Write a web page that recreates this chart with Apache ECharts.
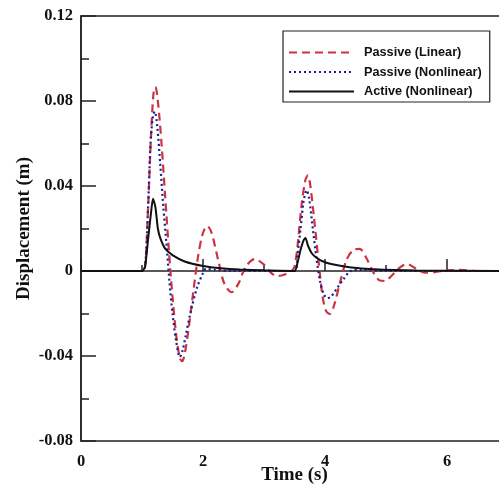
<!DOCTYPE html>
<html>
<head>
<meta charset="utf-8">
<script src="https://cdn.jsdelivr.net/npm/echarts@6/dist/echarts.min.js"></script>
<style>html,body{margin:0;padding:0;background:#fff;}#c{width:499px;height:490px;}</style>
</head>
<body>
<div id="c"></div>
<script>
var seriesNames = ['Passive (Linear)', 'Passive (Nonlinear)', 'Active (Nonlinear)'];
var yTickLabels = ['-0.08', '-0.04', '0', '0.04', '0.08', '0.12'];
var xTickLabels = ['0', '2', '4', '6'];

var linearT = [0, 1.0, 1.05, 1.1, 1.15, 1.19, 1.22, 1.26, 1.32, 1.38, 1.44, 1.5, 1.56, 1.62, 1.66, 1.7, 1.76, 1.84, 1.92, 2.0, 2.07, 2.14, 2.25, 2.35, 2.47, 2.58, 2.7, 2.85, 3.0, 3.12, 3.22, 3.35, 3.45, 3.5, 3.55, 3.62, 3.68, 3.72, 3.76, 3.82, 3.9, 3.96, 4.02, 4.08, 4.15, 4.25, 4.35, 4.46, 4.57, 4.68, 4.8, 4.9, 4.98, 5.1, 5.2, 5.34, 5.5, 5.65, 5.8, 6.0, 6.2, 6.5, 7.0];
var linearY = [0, 0, 0.002, 0.03, 0.065, 0.084, 0.0866, 0.08, 0.06, 0.035, 0.01, -0.012, -0.03, -0.041, -0.0424, -0.039, -0.028, -0.01, 0.007, 0.018, 0.0212, 0.018, 0.005, -0.006, -0.010, -0.006, 0.002, 0.0056, 0.003, -0.001, -0.0024, -0.0015, 0, 0.002, 0.012, 0.032, 0.043, 0.045, 0.040, 0.025, 0.003, -0.012, -0.019, -0.0202, -0.016, -0.005, 0.005, 0.0098, 0.0104, 0.006, -0.001, -0.0045, -0.0047, -0.002, 0.001, 0.0033, 0.001, -0.0008, -0.0005, 0.0003, 0.0005, 0, 0];

var nonlinT = [0, 1.0, 1.05, 1.1, 1.14, 1.18, 1.21, 1.25, 1.3, 1.35, 1.4, 1.45, 1.5, 1.56, 1.62, 1.66, 1.72, 1.8, 1.9, 2.0, 2.05, 2.2, 2.5, 3.5, 3.55, 3.6, 3.65, 3.7, 3.74, 3.8, 3.86, 3.92, 3.98, 4.04, 4.1, 4.2, 4.3, 4.42, 4.6, 5.0, 7.0];
var nonlinY = [0, 0, 0.002, 0.03, 0.06, 0.073, 0.075, 0.068, 0.05, 0.03, 0.013, -0.005, -0.02, -0.033, -0.0405, -0.038, -0.03, -0.019, -0.008, -0.001, 0.001, 0.0005, 0, 0, 0.008, 0.02, 0.033, 0.038, 0.034, 0.02, 0.006, -0.005, -0.011, -0.0128, -0.012, -0.008, -0.004, 0, 0.0005, 0, 0];

var activeT = [0, 1.0, 1.05, 1.1, 1.15, 1.18, 1.22, 1.26, 1.3, 1.38, 1.5, 1.7, 2.0, 2.3, 2.6, 3.0, 3.5, 3.55, 3.6, 3.65, 3.68, 3.72, 3.78, 3.85, 3.95, 4.1, 4.4, 4.8, 5.5, 7.0];
var activeY = [0, 0, 0.002, 0.015, 0.028, 0.034, 0.030, 0.020, 0.0155, 0.0105, 0.0075, 0.0045, 0.0024, 0.0013, 0.0007, 0.0003, 0, 0.004, 0.010, 0.0145, 0.0155, 0.012, 0.0085, 0.0065, 0.0047, 0.0033, 0.0018, 0.0008, 0.0002, 0];

function pairs(t, y) { return t.map(function (v, i) { return [v, y[i]]; }); }

var chart = echarts.init(document.getElementById('c'), null, {renderer: 'canvas'});
var serif = 'Liberation Serif';
chart.setOption({
  animation: false,
  backgroundColor: '#fff',
  grid: {left: 81, top: 16, bottom: 49, right: -9, outerBoundsMode: 'none', containLabel: false,
    show: true, borderColor: '#222', borderWidth: 1.5, backgroundColor: 'transparent'},
  legend: {
    orient: 'vertical', left: 283, top: 31,
    padding: [15, 8, 4, 5], itemGap: 6.5, itemWidth: 65, itemHeight: 12,
    borderColor: '#222', borderWidth: 1.2, backgroundColor: '#fff',
    itemStyle: {opacity: 0},
    textStyle: {fontFamily: 'Liberation Sans', fontWeight: 'bold', fontSize: 12.7, lineHeight: 12, color: '#111', padding: [0, 0, 0, 5]},
    data: seriesNames
  },
  xAxis: {
    type: 'value', min: 0, max: 7, interval: 2,
    name: 'Time (s)', nameLocation: 'middle', nameGap: 25, nameMoveOverlap: false,
    nameTextStyle: {fontFamily: serif, fontWeight: 'bold', fontSize: 19, color: '#111'},
    axisLine: {show: true, lineStyle: {color: '#222', width: 1.5}},
    axisTick: {show: true, inside: true, length: 12, lineStyle: {color: '#222', width: 1.5}},
    minorTick: {show: true, splitNumber: 2, length: 6, lineStyle: {color: '#222', width: 1.5}},
    splitLine: {show: false},
    axisLabel: {margin: 12, fontFamily: serif, fontWeight: 'bold', fontSize: 16.5, color: '#111',
      formatter: function (v) { var i = Math.round(v / 2); return (Math.abs(v - i * 2) < 1e-9 && xTickLabels[i] !== undefined) ? xTickLabels[i] : ''; }}
  },
  yAxis: {
    type: 'value', min: -0.08, max: 0.12, interval: 0.04,
    name: 'Displacement (m)', nameLocation: 'middle', nameGap: 47, nameMoveOverlap: false,
    nameTextStyle: {fontFamily: serif, fontWeight: 'bold', fontSize: 19, color: '#111'},
    axisLine: {show: true, lineStyle: {color: '#222', width: 1.5}},
    axisTick: {show: true, inside: true, length: 15, lineStyle: {color: '#222', width: 1.5}},
    minorTick: {show: true, splitNumber: 2, length: 8, lineStyle: {color: '#222', width: 1.5}},
    splitLine: {show: false},
    axisLabel: {margin: 8, fontFamily: serif, fontWeight: 'bold', fontSize: 16.5, color: '#111',
      formatter: function (v) { var i = Math.round((v + 0.08) / 0.04); return yTickLabels[i]; }}
  },
  series: [
    {name: seriesNames[0], type: 'line', symbol: 'none', data: pairs(linearT, linearY), smooth: 0.3,
      lineStyle: {color: '#cc3340', width: 2.2, type: [8, 5]}, itemStyle: {color: '#cc3340'}, z: 2},
    {name: seriesNames[1], type: 'line', symbol: 'none', data: pairs(nonlinT, nonlinY), smooth: 0.3,
      lineStyle: {color: '#1d1d90', width: 2.2, type: [2, 3]}, itemStyle: {color: '#1d1d90'}, z: 3},
    {name: seriesNames[2], type: 'line', symbol: 'none', data: pairs(activeT, activeY), smooth: 0.2,
      lineStyle: {color: '#111', width: 2}, itemStyle: {color: '#111'}, z: 4}
  ]
});
</script>
</body>
</html>
